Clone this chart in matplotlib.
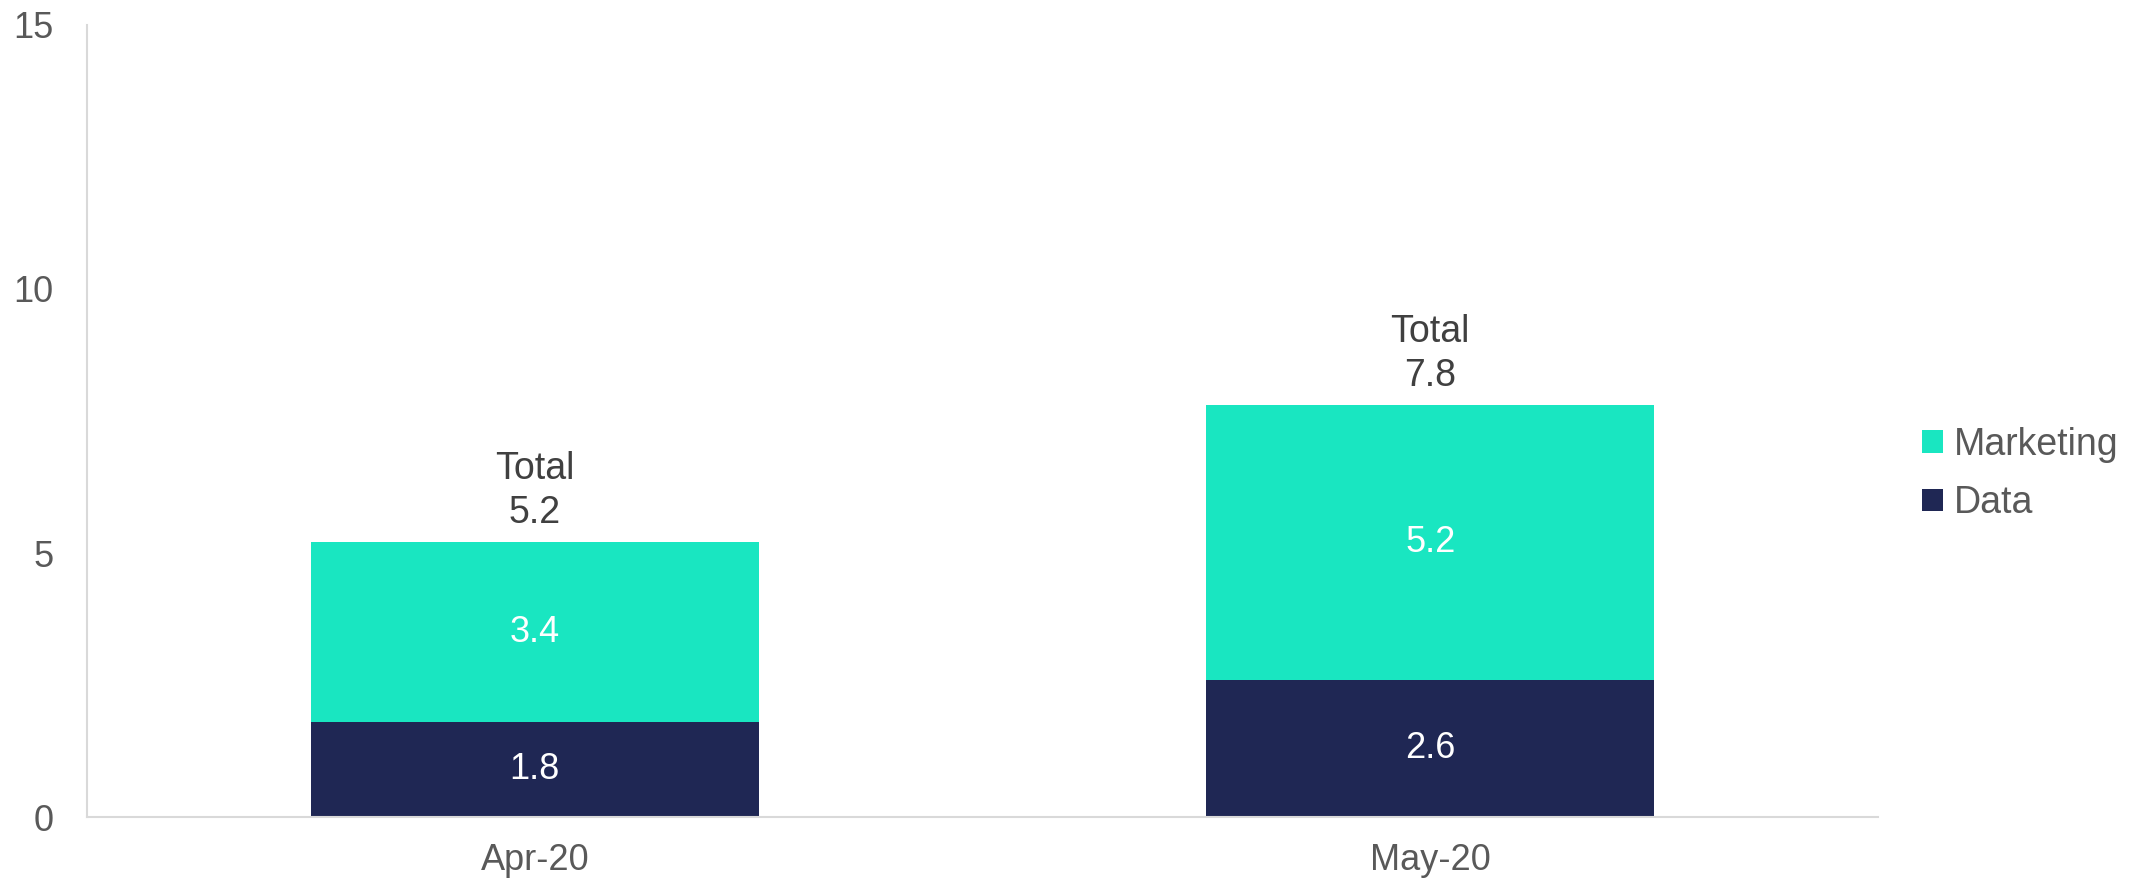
import matplotlib.pyplot as plt

plt.rcParams['font.family'] = ['Liberation Sans', 'DejaVu Sans']

# Dados do gráfico
months = ['Apr-20', 'May-20']
data_values = [1.8, 2.6]
marketing_values = [3.4, 5.2]
totals = [5.2, 7.8]

color_data = '#1F2754'
color_marketing = '#19E6C1'

fig = plt.figure(figsize=(21.34, 8.85), dpi=100)
ax = fig.add_axes([0.0408, 0.0768, 0.8392, 0.895])

x = range(len(months))
b1 = ax.bar(x, data_values, width=0.5, color=color_data, label='Data')
b2 = ax.bar(x, marketing_values, width=0.5, bottom=data_values, color=color_marketing, label='Marketing')

# Rótulos dentro das barras
for i in x:
    ax.text(i, data_values[i] / 2, f'{data_values[i]:.1f}', ha='center', va='center',
            color='white', fontsize=26)
    ax.text(i, data_values[i] + marketing_values[i] / 2, f'{marketing_values[i]:.1f}',
            ha='center', va='center', color='white', fontsize=26)
    ax.annotate(f'Total\n{totals[i]:.1f}', xy=(i, totals[i]), xytext=(0, 8),
                textcoords='offset points', ha='center', va='bottom',
                color='#404040', fontsize=27, linespacing=1.3)

ax.set_xlim(-0.5, 1.5)
ax.set_ylim(0, 15)
ax.set_yticks([0, 5, 10, 15])
ax.set_xticks(list(x))
ax.set_xticklabels(months)

for side in ['top', 'right']:
    ax.spines[side].set_visible(False)
for side in ['left', 'bottom']:
    ax.spines[side].set_color('#D9D9D9')
    ax.spines[side].set_linewidth(1.5)

ax.tick_params(axis='both', length=0, labelsize=26, labelcolor='#595959')
ax.tick_params(axis='y', pad=24)
ax.tick_params(axis='x', pad=19)

handles = [b2, b1]
ax.legend(handles, ['Marketing', 'Data'], loc='center left', bbox_to_anchor=(1.006, 0.433),
          frameon=False, fontsize=27, labelcolor='#595959', handlelength=0.55,
          handleheight=0.55, handletextpad=0.3, labelspacing=0.6)

plt.savefig('out.png', dpi=100)
